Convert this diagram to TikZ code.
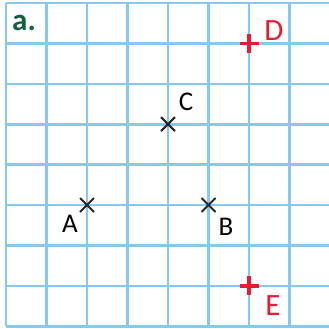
\documentclass[tikz,border=0pt]{standalone}
\usepackage{fontspec}
\usetikzlibrary{calc}
\setmainfont{Carlito}
\definecolor{gridblue}{RGB}{135,200,240}
\definecolor{ptred}{RGB}{232,28,48}
\definecolor{titlegreen}{RGB}{20,95,60}
\begin{document}
\begin{tikzpicture}[x=1pt,y=-1pt,
  gridline/.style={draw=gridblue,line width=2.6pt},
  xmark/.style={draw=black!85,line width=2.1pt},
  plusmark/.style={draw=ptred,line width=3.6pt},
  blacklbl/.style={font=\fontsize{27}{27}\selectfont,text=black,inner sep=0pt},
  redlbl/.style={font=\fontsize{31}{31}\selectfont,text=ptred,inner sep=0pt},
  titlelbl/.style={font=\bfseries\fontsize{31}{31}\selectfont,text=titlegreen,inner sep=0pt}]
\useasboundingbox (0,0) rectangle (329,329);
\begin{scope}
\clip (0,0) rectangle (329,329);
\foreach \i in {0,...,7} {
  \draw[gridline] ({6+40.5*\i},3) -- ({6+40.5*\i},326.2);
}
\foreach \j in {0,...,8} {
  \draw[gridline] (6,{3+40.4*\j}) -- (335,{3+40.4*\j});
}
\end{scope}
% points
\coordinate (A) at (87,205);
\coordinate (B) at (208.5,205);
\coordinate (C) at (168,124.2);
\coordinate (D) at (249,43.4);
\coordinate (E) at (249,285.8);
\foreach \p in {A,B,C} {
  \draw[xmark] ($(\p)+(-7,-7)$) -- ($(\p)+(7,7)$);
  \draw[xmark] ($(\p)+(-7,7)$) -- ($(\p)+(7,-7)$);
}
\foreach \p in {D,E} {
  \draw[plusmark] ($(\p)+(-9.5,0)$) -- ($(\p)+(9.5,0)$);
  \draw[plusmark] ($(\p)+(0,-9.5)$) -- ($(\p)+(0,9.5)$);
}
% labels
\node[blacklbl] (lA) at (70,224) {A};
\node[blacklbl] (lB) at (226,227) {B};
\node[blacklbl] (lC) at (186,102) {C};
\node[redlbl] (lD) at (274,31) {D};
\node[redlbl] (lE) at (273,306) {E};
\node[titlelbl] (title) at (24,23) {a.};
\end{tikzpicture}
\end{document}
